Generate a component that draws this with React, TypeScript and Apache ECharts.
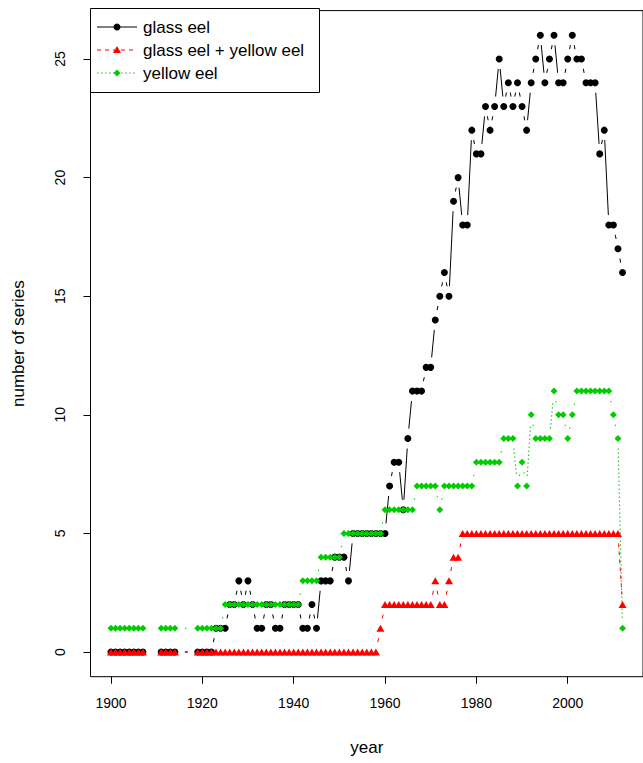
import React, { useEffect, useRef } from "react";
import * as echarts from "echarts";

const years = [
  1900, 1901, 1902, 1903, 1904, 1905, 1906, 1907,
  1911, 1912, 1913, 1914,
  1919, 1920, 1921, 1922, 1923, 1924, 1925, 1926, 1927, 1928,
  1929, 1930, 1931, 1932, 1933, 1934, 1935, 1936, 1937, 1938,
  1939, 1940, 1941, 1942, 1943, 1944, 1945, 1946, 1947, 1948,
  1949, 1950, 1951, 1952, 1953, 1954, 1955, 1956, 1957, 1958,
  1959, 1960, 1961, 1962, 1963, 1964, 1965, 1966, 1967, 1968,
  1969, 1970, 1971, 1972, 1973, 1974, 1975, 1976, 1977, 1978,
  1979, 1980, 1981, 1982, 1983, 1984, 1985, 1986, 1987, 1988,
  1989, 1990, 1991, 1992, 1993, 1994, 1995, 1996, 1997, 1998,
  1999, 2000, 2001, 2002, 2003, 2004, 2005, 2006, 2007, 2008,
  2009, 2010, 2011, 2012,
];

const glassEel = [
  0, 0, 0, 0, 0, 0, 0, 0,
  0, 0, 0, 0,
  0, 0, 0, 0, 1, 1, 1, 2, 2, 3,
  2, 3, 2, 1, 1, 2, 2, 1, 1, 2,
  2, 2, 2, 1, 1, 2, 1, 3, 3, 3,
  4, 4, 4, 3, 5, 5, 5, 5, 5, 5,
  5, 5, 7, 8, 8, 6, 9, 11, 11, 11,
  12, 12, 14, 15, 16, 15, 19, 20, 18, 18,
  22, 21, 21, 23, 22, 23, 25, 23, 24, 23,
  24, 23, 22, 24, 25, 26, 24, 25, 26, 24,
  24, 25, 26, 25, 25, 24, 24, 24, 21, 22,
  18, 18, 17, 16,
];

const glassYellowEel = [
  0, 0, 0, 0, 0, 0, 0, 0,
  0, 0, 0, 0,
  0, 0, 0, 0, 0, 0, 0, 0, 0, 0,
  0, 0, 0, 0, 0, 0, 0, 0, 0, 0,
  0, 0, 0, 0, 0, 0, 0, 0, 0, 0,
  0, 0, 0, 0, 0, 0, 0, 0, 0, 0,
  1, 2, 2, 2, 2, 2, 2, 2, 2, 2,
  2, 2, 3, 2, 2, 3, 4, 4, 5, 5,
  5, 5, 5, 5, 5, 5, 5, 5, 5, 5,
  5, 5, 5, 5, 5, 5, 5, 5, 5, 5,
  5, 5, 5, 5, 5, 5, 5, 5, 5, 5,
  5, 5, 5, 2,
];

const yellowEel = [
  1, 1, 1, 1, 1, 1, 1, 1,
  1, 1, 1, 1,
  1, 1, 1, 1, 1, 1, 2, 2, 2, 2,
  2, 2, 2, 2, 2, 2, 2, 2, 2, 2,
  2, 2, 2, 3, 3, 3, 3, 4, 4, 4,
  4, 4, 5, 5, 5, 5, 5, 5, 5, 5,
  5, 6, 6, 6, 6, 6, 6, 6, 7, 7,
  7, 7, 7, 6, 7, 7, 7, 7, 7, 7,
  7, 8, 8, 8, 8, 8, 8, 9, 9, 9,
  7, 8, 7, 10, 9, 9, 9, 9, 11, 10,
  10, 9, 10, 11, 11, 11, 11, 11, 11, 11,
  11, 10, 9, 1,
];

const xTicks = [1900, 1920, 1940, 1960, 1980, 2000];
const yTicks = [0, 5, 10, 15, 20, 25];
const legendLabels = ["glass eel", "glass eel + yellow eel", "yellow eel"];
const xTitle = "year";
const yTitle = "number of series";

const FONT = "'Liberation Sans', Arial, sans-serif";
const GAP = 10;
const BLACK = "#000000";
const RED = "#FF0000";
const GREEN = "#00CD00";

function points(vals: number[]) {
  return years.map((y, i) => [y, vals[i]]);
}

function segments(vals: number[]) {
  const out: number[][] = [];
  for (let i = 0; i < years.length - 1; i++) {
    out.push([years[i], vals[i], years[i + 1], vals[i + 1]]);
  }
  return out;
}

function segSeries(name: string, vals: number[], color: string, dash: any) {
  return {
    type: "custom",
    name,
    data: segments(vals),
    encode: { x: [0, 2], y: [1, 3] },
    silent: true,
    renderItem: (params: any, api: any) => {
      const a = api.coord([api.value(0), api.value(1)]);
      const b = api.coord([api.value(2), api.value(3)]);
      const dx = b[0] - a[0];
      const dy = b[1] - a[1];
      const len = Math.sqrt(dx * dx + dy * dy);
      if (len <= 2 * GAP) return { type: "group", children: [] };
      const ux = dx / len;
      const uy = dy / len;
      return {
        type: "line",
        shape: {
          x1: a[0] + ux * GAP,
          y1: a[1] + uy * GAP,
          x2: b[0] - ux * GAP,
          y2: b[1] - uy * GAP,
        },
        style: { stroke: color, lineWidth: 1, lineDash: dash, fill: null },
      };
    },
  };
}

function markSeries(name: string, vals: number[], color: string, symbol: string, size: any) {
  return {
    type: "scatter",
    name,
    data: points(vals),
    symbol,
    symbolSize: size,
    itemStyle: { color, opacity: 1 },
    silent: true,
  };
}

export default function App() {
  const ref = useRef<HTMLDivElement>(null);
  useEffect(() => {
    if (!ref.current) return;
    const chart = echarts.init(ref.current, null, { renderer: "svg" });
    const lx = 90.5;
    const ly = 8.5;
    const rows = [27, 50, 73];
    chart.setOption({
      animation: false,
      backgroundColor: "#ffffff",
      textStyle: { fontFamily: FONT, color: "#000" },
      grid: {
        show: true,
        left: 90.5,
        top: 10.6,
        right: -7.3,
        bottom: 86.3,
        borderColor: "#000",
        borderWidth: 1,
        backgroundColor: "transparent",
        containLabel: false,
      },
      xAxis: {
        type: "value",
        min: 1895.52,
        max: 2016.48,
        name: xTitle,
        nameLocation: "middle",
        nameGap: 62,
        nameTextStyle: { fontSize: 17, color: "#000", fontFamily: FONT },
        axisLine: { show: false, onZero: false },
        splitLine: { show: false },
        axisTick: { show: true, length: 7, inside: false, customValues: xTicks, lineStyle: { color: "#000" } },
        axisLabel: {
          customValues: xTicks,
          fontSize: 14,
          color: "#000",
          fontFamily: FONT,
          margin: 19,
          formatter: (v: number) => String(v),
        },
      },
      yAxis: {
        type: "value",
        min: -1.04,
        max: 27.04,
        name: yTitle,
        nameLocation: "middle",
        nameGap: 64,
        nameTextStyle: { fontSize: 17, color: "#000", fontFamily: FONT },
        axisLine: { show: false, onZero: false },
        splitLine: { show: false },
        axisTick: { show: true, length: 7, inside: false, customValues: yTicks, lineStyle: { color: "#000" } },
        axisLabel: {
          customValues: yTicks,
          rotate: 90,
          fontSize: 14,
          color: "#000",
          fontFamily: FONT,
          margin: 24,
          formatter: (v: number) => String(v),
        },
      },
      series: [
        segSeries(legendLabels[0], glassEel, BLACK, null),
        markSeries(legendLabels[0], glassEel, BLACK, "circle", 7),
        segSeries(legendLabels[1], glassYellowEel, RED, [4, 4]),
        markSeries(legendLabels[1], glassYellowEel, RED, "triangle", [8, 7]),
        segSeries(legendLabels[2], yellowEel, GREEN, [1.5, 2.5]),
        markSeries(legendLabels[2], yellowEel, GREEN, "diamond", [7, 7]),
      ],
      graphic: [
        {
          type: "group",
          z: 100,
          children: [
            {
              type: "rect",
              shape: { x: lx, y: ly, width: 229, height: 84 },
              style: { fill: "#fff", stroke: "#000", lineWidth: 1 },
            },
            { type: "line", shape: { x1: 97, y1: rows[0], x2: 137, y2: rows[0] }, style: { stroke: BLACK, lineWidth: 1 } },
            { type: "circle", shape: { cx: 117, cy: rows[0], r: 3.5 }, style: { fill: BLACK } },
            { type: "line", shape: { x1: 97, y1: rows[1], x2: 137, y2: rows[1] }, style: { stroke: RED, lineWidth: 1, lineDash: [4, 4] } },
            {
              type: "polygon",
              shape: { points: [[117, rows[1] - 4], [121, rows[1] + 3], [113, rows[1] + 3]] },
              style: { fill: RED },
            },
            { type: "line", shape: { x1: 97, y1: rows[2], x2: 137, y2: rows[2] }, style: { stroke: GREEN, lineWidth: 1, lineDash: [1.5, 2.5] } },
            {
              type: "polygon",
              shape: { points: [[117, rows[2] - 3.5], [120.5, rows[2]], [117, rows[2] + 3.5], [113.5, rows[2]]] },
              style: { fill: GREEN },
            },
            ...legendLabels.map((t, i) => ({
              type: "text",
              style: {
                x: 143,
                y: rows[i],
                text: t,
                fill: "#000",
                fontSize: 17,
                fontFamily: FONT,
                verticalAlign: "middle",
                align: "left",
              },
            })),
          ],
        },
      ],
    });
    return () => chart.dispose();
  }, []);
  return (
    <div
      ref={ref}
      style={{ position: "fixed", left: 0, top: 0, width: 643, height: 763, background: "#fff" }}
    />
  );
}
